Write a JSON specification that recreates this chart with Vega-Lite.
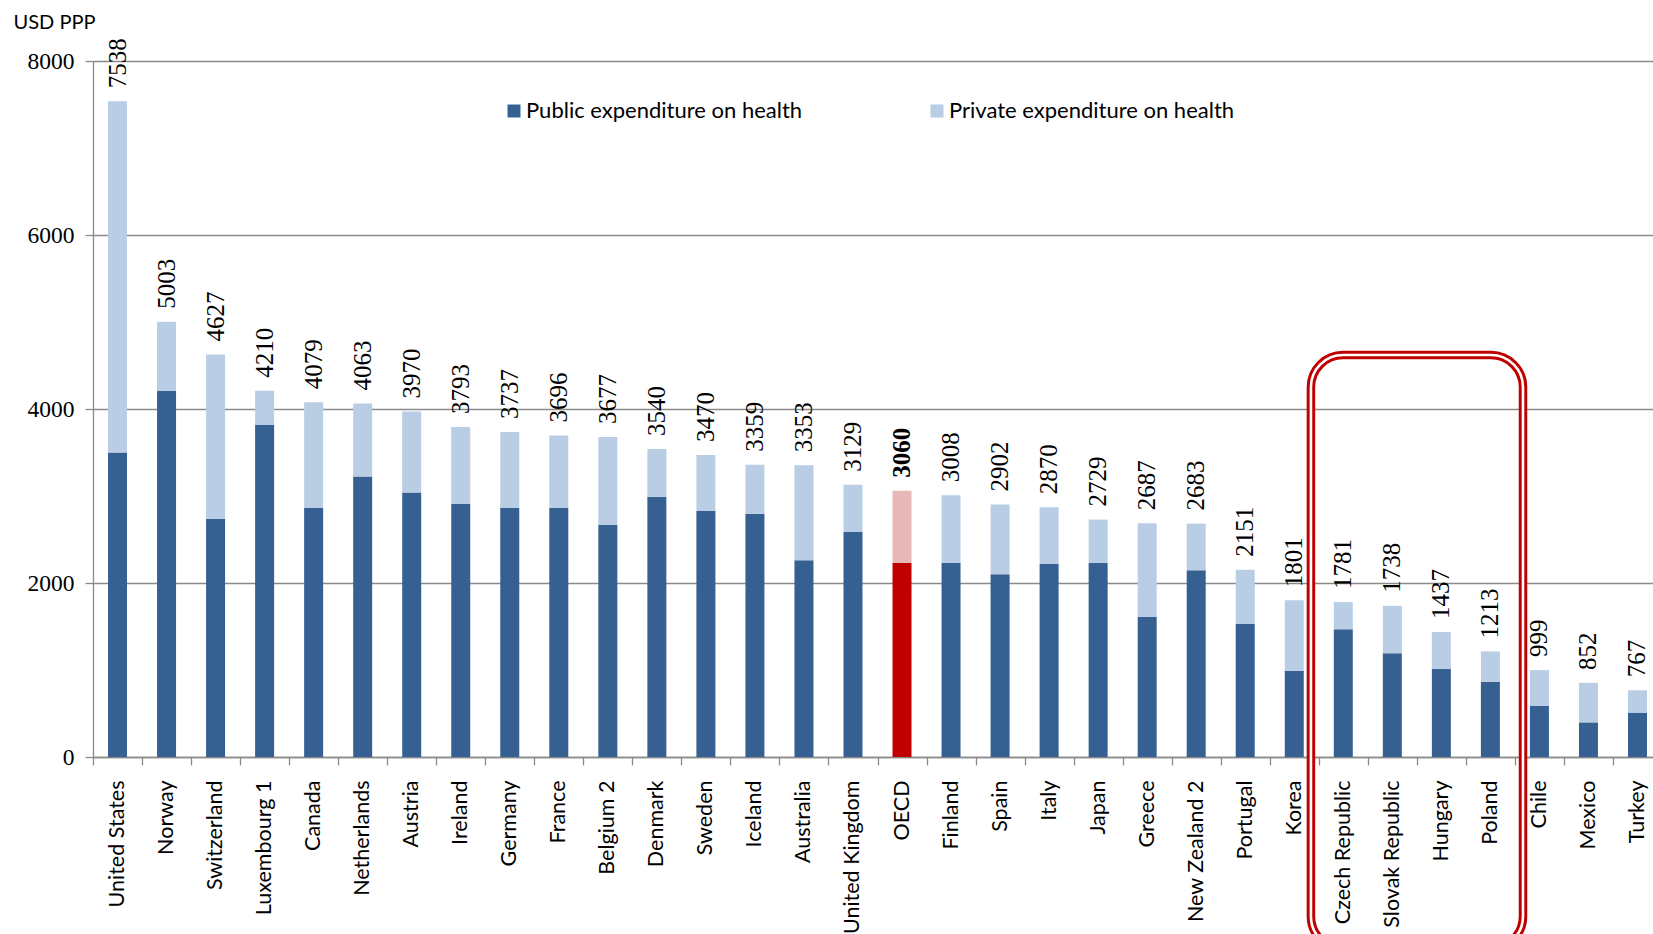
{
  "$schema": "https://vega.github.io/schema/vega-lite/v6.json",
  "autosize": {"type": "none"},
  "padding": {"left": 93, "top": 61, "right": 0, "bottom": 177},
  "width": 1560,
  "height": 696,
  "background": "white",
  "config": {"view": {"stroke": null}},
  "datasets": {
    "spending": [
      {"country": "United States", "part": "Public expenditure on health", "low": 0, "high": 3500},
      {"country": "United States", "part": "Private expenditure on health", "low": 3500, "high": 7538},
      {"country": "Norway", "part": "Public expenditure on health", "low": 0, "high": 4206},
      {"country": "Norway", "part": "Private expenditure on health", "low": 4206, "high": 5003},
      {"country": "Switzerland", "part": "Public expenditure on health", "low": 0, "high": 2739},
      {"country": "Switzerland", "part": "Private expenditure on health", "low": 2739, "high": 4627},
      {"country": "Luxembourg 1", "part": "Public expenditure on health", "low": 0, "high": 3818},
      {"country": "Luxembourg 1", "part": "Private expenditure on health", "low": 3818, "high": 4210},
      {"country": "Canada", "part": "Public expenditure on health", "low": 0, "high": 2862},
      {"country": "Canada", "part": "Private expenditure on health", "low": 2862, "high": 4079},
      {"country": "Netherlands", "part": "Public expenditure on health", "low": 0, "high": 3225},
      {"country": "Netherlands", "part": "Private expenditure on health", "low": 3225, "high": 4063},
      {"country": "Austria", "part": "Public expenditure on health", "low": 0, "high": 3040},
      {"country": "Austria", "part": "Private expenditure on health", "low": 3040, "high": 3970},
      {"country": "Ireland", "part": "Public expenditure on health", "low": 0, "high": 2908},
      {"country": "Ireland", "part": "Private expenditure on health", "low": 2908, "high": 3793},
      {"country": "Germany", "part": "Public expenditure on health", "low": 0, "high": 2862},
      {"country": "Germany", "part": "Private expenditure on health", "low": 2862, "high": 3737},
      {"country": "France", "part": "Public expenditure on health", "low": 0, "high": 2862},
      {"country": "France", "part": "Private expenditure on health", "low": 2862, "high": 3696},
      {"country": "Belgium 2", "part": "Public expenditure on health", "low": 0, "high": 2667},
      {"country": "Belgium 2", "part": "Private expenditure on health", "low": 2667, "high": 3677},
      {"country": "Denmark", "part": "Public expenditure on health", "low": 0, "high": 2992},
      {"country": "Denmark", "part": "Private expenditure on health", "low": 2992, "high": 3540},
      {"country": "Sweden", "part": "Public expenditure on health", "low": 0, "high": 2828},
      {"country": "Sweden", "part": "Private expenditure on health", "low": 2828, "high": 3470},
      {"country": "Iceland", "part": "Public expenditure on health", "low": 0, "high": 2797},
      {"country": "Iceland", "part": "Private expenditure on health", "low": 2797, "high": 3359},
      {"country": "Australia", "part": "Public expenditure on health", "low": 0, "high": 2261},
      {"country": "Australia", "part": "Private expenditure on health", "low": 2261, "high": 3353},
      {"country": "United Kingdom", "part": "Public expenditure on health", "low": 0, "high": 2586},
      {"country": "United Kingdom", "part": "Private expenditure on health", "low": 2586, "high": 3129},
      {"country": "OECD", "part": "Public expenditure on health", "low": 0, "high": 2233},
      {"country": "OECD", "part": "Private expenditure on health", "low": 2233, "high": 3060},
      {"country": "Finland", "part": "Public expenditure on health", "low": 0, "high": 2230},
      {"country": "Finland", "part": "Private expenditure on health", "low": 2230, "high": 3008},
      {"country": "Spain", "part": "Public expenditure on health", "low": 0, "high": 2100},
      {"country": "Spain", "part": "Private expenditure on health", "low": 2100, "high": 2902},
      {"country": "Italy", "part": "Public expenditure on health", "low": 0, "high": 2218},
      {"country": "Italy", "part": "Private expenditure on health", "low": 2218, "high": 2870},
      {"country": "Japan", "part": "Public expenditure on health", "low": 0, "high": 2230},
      {"country": "Japan", "part": "Private expenditure on health", "low": 2230, "high": 2729},
      {"country": "Greece", "part": "Public expenditure on health", "low": 0, "high": 1613},
      {"country": "Greece", "part": "Private expenditure on health", "low": 1613, "high": 2687},
      {"country": "New Zealand 2", "part": "Public expenditure on health", "low": 0, "high": 2146},
      {"country": "New Zealand 2", "part": "Private expenditure on health", "low": 2146, "high": 2683},
      {"country": "Portugal", "part": "Public expenditure on health", "low": 0, "high": 1529},
      {"country": "Portugal", "part": "Private expenditure on health", "low": 1529, "high": 2151},
      {"country": "Korea", "part": "Public expenditure on health", "low": 0, "high": 992},
      {"country": "Korea", "part": "Private expenditure on health", "low": 992, "high": 1801},
      {"country": "Czech Republic", "part": "Public expenditure on health", "low": 0, "high": 1468},
      {"country": "Czech Republic", "part": "Private expenditure on health", "low": 1468, "high": 1781},
      {"country": "Slovak Republic", "part": "Public expenditure on health", "low": 0, "high": 1192},
      {"country": "Slovak Republic", "part": "Private expenditure on health", "low": 1192, "high": 1738},
      {"country": "Hungary", "part": "Public expenditure on health", "low": 0, "high": 1011},
      {"country": "Hungary", "part": "Private expenditure on health", "low": 1011, "high": 1437},
      {"country": "Poland", "part": "Public expenditure on health", "low": 0, "high": 866},
      {"country": "Poland", "part": "Private expenditure on health", "low": 866, "high": 1213},
      {"country": "Chile", "part": "Public expenditure on health", "low": 0, "high": 590},
      {"country": "Chile", "part": "Private expenditure on health", "low": 590, "high": 999},
      {"country": "Mexico", "part": "Public expenditure on health", "low": 0, "high": 398},
      {"country": "Mexico", "part": "Private expenditure on health", "low": 398, "high": 852},
      {"country": "Turkey", "part": "Public expenditure on health", "low": 0, "high": 510},
      {"country": "Turkey", "part": "Private expenditure on health", "low": 510, "high": 767}
    ],
    "highlight": [
      {"first": "Czech Republic", "last": "Poland", "top": 4620, "bottom": -2200}
    ]
  },
  "layer": [
    {
      "data": {"name": "spending"},
      "mark": {"type": "bar", "width": 19},
      "encoding": {
        "x": {
          "field": "country",
          "type": "nominal",
          "sort": null,
          "scale": {
            "domain": ["United States", "Norway", "Switzerland", "Luxembourg 1", "Canada", "Netherlands", "Austria", "Ireland", "Germany", "France", "Belgium 2", "Denmark", "Sweden", "Iceland", "Australia", "United Kingdom", "OECD", "Finland", "Spain", "Italy", "Japan", "Greece", "New Zealand 2", "Portugal", "Korea", "Czech Republic", "Slovak Republic", "Hungary", "Poland", "Chile", "Mexico", "Turkey"],
            "range": [0, 1569],
            "paddingInner": 0,
            "paddingOuter": 0
          },
          "axis": {
            "title": null,
            "tickBand": "extent",
            "labelAngle": 270,
            "labelAlign": "right",
            "labelBaseline": "middle",
            "labelFont": "Lato",
            "labelFontSize": 21.5,
            "labelColor": "#000000",
            "labelPadding": 15,
            "labelLimit": 300,
            "tickSize": 8,
            "tickColor": "#8a8a8a",
            "tickWidth": 1.3,
            "domainColor": "#8a8a8a",
            "domainWidth": 1.3,
            "grid": false
          }
        },
        "y": {
          "field": "high",
          "type": "quantitative",
          "scale": {"domain": [0, 8000]},
          "axis": {
            "values": [0, 2000, 4000, 6000, 8000],
            "format": "d",
            "grid": true,
            "gridColor": "#8a8a8a",
            "gridWidth": 1.3,
            "domainColor": "#8a8a8a",
            "domainWidth": 1.3,
            "tickColor": "#8a8a8a",
            "tickWidth": 1.3,
            "tickSize": 8,
            "labelFont": "Liberation Serif",
            "labelFontSize": 23.5,
            "labelColor": "#000000",
            "labelPadding": 11,
            "title": "USD PPP",
            "titleAngle": 0,
            "titleX": -80,
            "titleY": -33,
            "titleAlign": "left",
            "titleBaseline": "alphabetic",
            "titleFont": "Lato",
            "titleFontSize": 20,
            "titleFontWeight": "normal",
            "titleColor": "#000000"
          }
        },
        "y2": {"field": "low"},
        "color": {
          "field": "part",
          "type": "nominal",
          "scale": {
            "domain": ["Public expenditure on health", "Private expenditure on health"],
            "range": ["#376092", "#b9cde5"]
          },
          "condition": [
            {"test": "datum.country === 'OECD' && datum.part === 'Public expenditure on health'", "value": "#c00000"},
            {"test": "datum.country === 'OECD'", "value": "#e6b9b8"}
          ],
          "legend": {
            "orient": "none",
            "legendX": 410,
            "legendY": 39,
            "direction": "horizontal",
            "title": null,
            "padding": 0,
            "symbolType": "square",
            "symbolSize": 169,
            "symbolStrokeWidth": 0,
            "symbolOpacity": 1,
            "labelFont": "Lato",
            "labelFontSize": 22,
            "labelColor": "#000000",
            "labelLimit": 400,
            "labelOffset": 1,
            "columnPadding": 123
          }
        }
      }
    },
    {
      "data": {"name": "spending"},
      "transform": [
        {"filter": "datum.part === 'Private expenditure on health' && datum.country !== 'OECD'"}
      ],
      "mark": {
        "type": "text",
        "angle": 270,
        "align": "left",
        "baseline": "middle",
        "dx": 13,
        "font": "Liberation Serif",
        "fontSize": 25,
        "color": "#000000"
      },
      "encoding": {
        "x": {"field": "country", "type": "nominal", "sort": null},
        "y": {"field": "high", "type": "quantitative"},
        "text": {"field": "high", "type": "quantitative", "format": "d"}
      }
    },
    {
      "data": {"name": "spending"},
      "transform": [
        {"filter": "datum.part === 'Private expenditure on health' && datum.country === 'OECD'"}
      ],
      "mark": {
        "type": "text",
        "angle": 270,
        "align": "left",
        "baseline": "middle",
        "dx": 13,
        "font": "Liberation Serif",
        "fontSize": 25,
        "fontWeight": "bold",
        "color": "#000000"
      },
      "encoding": {
        "x": {"field": "country", "type": "nominal", "sort": null},
        "y": {"field": "high", "type": "quantitative"},
        "text": {"field": "high", "type": "quantitative", "format": "d"}
      }
    },
    {
      "data": {"name": "highlight"},
      "mark": {"type": "rect", "cornerRadius": 32, "fillOpacity": 0, "stroke": "#c00000", "strokeWidth": 8.5},
      "encoding": {
        "x": {"field": "first", "type": "nominal", "bandPosition": -0.16},
        "x2": {"field": "last", "bandPosition": 1.165},
        "y": {"field": "top", "type": "quantitative"},
        "y2": {"field": "bottom"}
      }
    },
    {
      "data": {"name": "highlight"},
      "mark": {"type": "rect", "cornerRadius": 32, "fillOpacity": 0, "stroke": "#ffffff", "strokeWidth": 2.6},
      "encoding": {
        "x": {"field": "first", "type": "nominal", "bandPosition": -0.16},
        "x2": {"field": "last", "bandPosition": 1.165},
        "y": {"field": "top", "type": "quantitative"},
        "y2": {"field": "bottom"}
      }
    }
  ]
}
